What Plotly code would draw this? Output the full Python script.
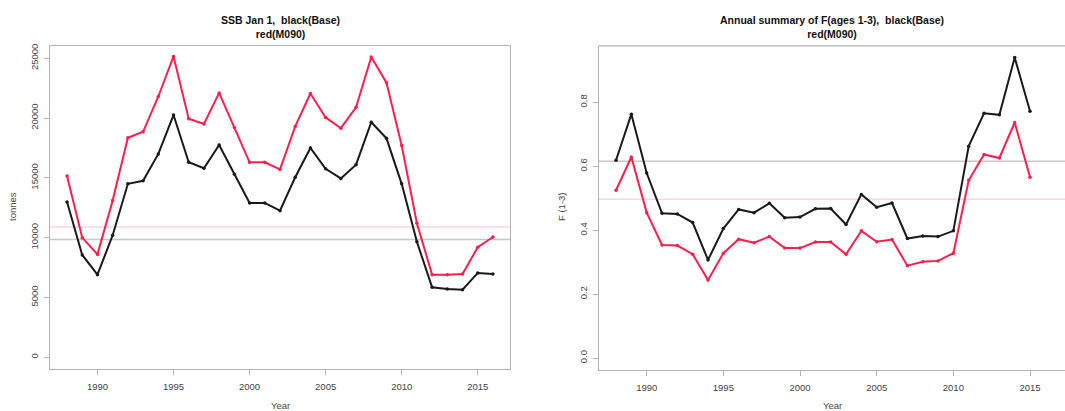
import plotly.graph_objects as go

years_ssb = list(range(1988, 2017))
ssb_base = [12980, 8550, 6900, 10200, 14500, 14750, 17000, 20250, 16300, 15800,
            17750, 15300, 12900, 12900, 12250, 15050, 17500, 15750, 14950, 16100,
            19650, 18300, 14500, 9650, 5850, 5700, 5650, 7050, 6950]
ssb_m090 = [15150, 10000, 8600, 13100, 18350, 18850, 21800, 25150, 19950, 19500,
            22100, 19200, 16300, 16300, 15700, 19300, 22050, 20050, 19150, 20900,
            25100, 22950, 17700, 11200, 6900, 6900, 6950, 9200, 10050]
ssb_ref_base = 9850
ssb_ref_m090 = 10900

years_f = list(range(1988, 2016))
f_base = [0.619, 0.763, 0.579, 0.453, 0.451, 0.424, 0.307, 0.405, 0.465, 0.455,
          0.484, 0.439, 0.441, 0.467, 0.468, 0.418, 0.512, 0.472, 0.485, 0.374,
          0.382, 0.380, 0.398, 0.663, 0.766, 0.761, 0.940, 0.772]
f_m090 = [0.525, 0.629, 0.455, 0.354, 0.352, 0.325, 0.244, 0.328, 0.372, 0.361,
          0.380, 0.344, 0.344, 0.363, 0.363, 0.325, 0.398, 0.364, 0.371, 0.289,
          0.301, 0.304, 0.328, 0.556, 0.637, 0.626, 0.737, 0.566]
f_ref_base = 0.616
f_ref_m090 = 0.497

ssb_ticks = [0, 5000, 10000, 15000, 20000, 25000]
ssb_ticklabels = ["0", "5000", "10000", "15000", "20000", "25000"]
f_ticks = [0.0, 0.2, 0.4, 0.6, 0.8]
f_ticklabels = ["0.0", "0.2", "0.4", "0.6", "0.8"]
year_ticks = [1990, 1995, 2000, 2005, 2010, 2015]

BLACK = "#1a1a1a"
RED = "#ff1f4b"
FRAME = "#b4b4b4"
FONT = "Liberation Sans, Arial, sans-serif"

W, H = 1065, 411
def px(x):
    return x / W
def py(y):
    return (H - y) / H

fig = go.Figure()

# reference lines
fig.add_trace(go.Scatter(x=[1986.88, 2017.12], y=[ssb_ref_base] * 2, mode="lines",
                         line=dict(color="#c8c8c8", width=1.5), xaxis="x", yaxis="y",
                         showlegend=False, hoverinfo="skip"))
fig.add_trace(go.Scatter(x=[1986.88, 2017.12], y=[ssb_ref_m090] * 2, mode="lines",
                         line=dict(color="#ffd6de", width=1.5), xaxis="x", yaxis="y",
                         showlegend=False, hoverinfo="skip"))
fig.add_trace(go.Scatter(x=[1986.8, 2018], y=[f_ref_base] * 2, mode="lines",
                         line=dict(color="#c8c8c8", width=1.5), xaxis="x2", yaxis="y2",
                         showlegend=False, hoverinfo="skip"))
fig.add_trace(go.Scatter(x=[1986.8, 2018], y=[f_ref_m090] * 2, mode="lines",
                         line=dict(color="#ffd6de", width=1.5), xaxis="x2", yaxis="y2",
                         showlegend=False, hoverinfo="skip"))

# data lines
for xs, ys, col, xa, ya in [
    (years_ssb, ssb_base, BLACK, "x", "y"),
    (years_ssb, ssb_m090, RED, "x", "y"),
    (years_f, f_base, BLACK, "x2", "y2"),
    (years_f, f_m090, RED, "x2", "y2"),
]:
    fig.add_trace(go.Scatter(x=xs, y=ys, mode="lines+markers",
                             line=dict(color=col, width=2),
                             marker=dict(color=col, size=3.5),
                             xaxis=xa, yaxis=ya, showlegend=False))

axis_common = dict(showgrid=False, zeroline=False, showline=True, linecolor=FRAME,
                   linewidth=1.2, ticks="outside", ticklen=5, tickcolor=FRAME,
                   tickwidth=1, tickfont=dict(family=FONT, size=9.5, color="#444444"))

ydom = [py(369), py(44)]
fig.update_layout(
    width=W, height=H,
    margin=dict(l=0, r=0, t=0, b=0),
    paper_bgcolor="white", plot_bgcolor="white",
    font=dict(family=FONT),
    xaxis=dict(domain=[px(50), px(510)], range=[1986.88, 2017.12], anchor="y",
               tickvals=year_ticks, mirror=True, ticklabelstandoff=3, **axis_common),
    yaxis=dict(domain=ydom, range=[-1000, 26040], anchor="x",
               tickvals=ssb_ticks, ticktext=ssb_ticklabels, tickangle=-90,
               mirror=True, ticklabelstandoff=2, **axis_common),
    xaxis2=dict(domain=[px(599), 1.0], range=[1986.89, 2017.28], anchor="y2",
                tickvals=year_ticks, ticklabelstandoff=3, **axis_common),
    yaxis2=dict(domain=[py(370), py(44)], range=[-0.038, 0.977], anchor="x2",
                tickvals=f_ticks, ticktext=f_ticklabels, tickangle=-90,
                ticklabelstandoff=2, **axis_common),
    shapes=[
        dict(type="line", xref="paper", yref="paper", x0=px(599), x1=1.02,
             y0=py(44), y1=py(44), line=dict(color=FRAME, width=1.2)),
    ],
)

ann = []
title_font = dict(family=FONT, size=10.5, color="#111111")
ann.append(dict(x=px(280), y=py(25), xref="paper", yref="paper", showarrow=False,
                text="<b>SSB Jan 1,  black(Base)</b><br><b>red(M090)</b>",
                font=title_font, xanchor="center", yanchor="middle"))
ann.append(dict(x=px(832), y=py(25), xref="paper", yref="paper", showarrow=False,
                text="<b>Annual summary of F(ages 1-3),  black(Base)</b><br><b>red(M090)</b>",
                font=title_font, xanchor="center", yanchor="middle"))
lab_font = dict(family=FONT, size=9.5, color="#444444")
ann.append(dict(x=px(280), y=py(405), xref="paper", yref="paper", showarrow=False,
                text="Year", font=lab_font, xanchor="center", yanchor="middle"))
ann.append(dict(x=px(832), y=py(405), xref="paper", yref="paper", showarrow=False,
                text="Year", font=lab_font, xanchor="center", yanchor="middle"))
ann.append(dict(x=px(13), y=py(206), xref="paper", yref="paper", showarrow=False,
                text="tonnes", font=lab_font, textangle=-90, xanchor="center", yanchor="middle"))
ann.append(dict(x=px(562), y=py(206), xref="paper", yref="paper", showarrow=False,
                text="F (1-3)", font=lab_font, textangle=-90, xanchor="center", yanchor="middle"))
fig.update_layout(annotations=ann)

fig.write_html("out.html")
